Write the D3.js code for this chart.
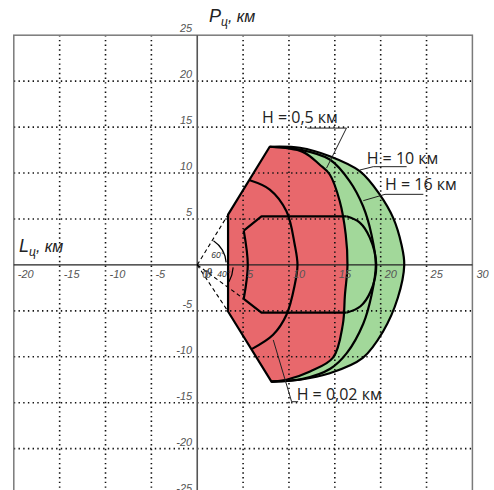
<!DOCTYPE html>
<html><head><meta charset="utf-8">
<script src="https://cdn.jsdelivr.net/npm/d3@7"></script>
<style>body{margin:0;background:#fff}</style>
</head><body>
<svg id="chart" width="494" height="490"></svg>
<script>
// ---- tick labels and grid positions (km) ----
const xTickValues = [-20, -15, -10, -5, 5, 10, 15, 20, 25, 30];
const yTickValues = [25, 20, 15, 10, 5, -5, -10, -15, -20, -25];
const gridX = [-15, -10, -5, 5, 10, 15, 20, 25];
const gridY = [20, 15, 10, 5, -5, -10, -15, -20];

// ---- zone geometry (L, P in km) ----
// straight near edge of the zone: upper vertex, 60° corner, lower corner, lower vertex
const zoneEdge = [[7.9, 12.86], [3.36, 5.47], [3.36, -5.07], [8.09, -12.7]];
// far boundary for H = 10 km
const arcH10 = [[7.9, 12.86], [11.2, 12.75], [14.45, 11.83], [17.72, 10.2], [19.9, 7.66], [21.35, 5.15],
  [22.27, 2.2], [22.57, 0], [21.87, -3.58], [20.26, -7.25], [18.05, -10.12], [14.45, -11.8], [11.2, -12.5], [8.09, -12.7]];
// far boundary for H = 16 km
const arcH16 = [[7.9, 12.86], [11.2, 12.55], [14.45, 11.47], [16.63, 9.1], [18.08, 6.38], [19.0, 3.29],
  [19.47, 0], [19.0, -3.3], [18.1, -6.4], [16.3, -9.6], [14.5, -11.3], [11.5, -12.4], [8.09, -12.7]];
// far boundary for H = 0.5 km
const arcH05 = [[7.9, 12.86], [11.5, 12.3], [13.36, 10.9], [14.45, 9.84], [15.54, 6.92], [16.19, 3.29],
  [16.38, 0], [16.1, -3.3], [15.87, -6.5], [14.8, -10.1], [12.3, -11.6], [9.73, -12.5], [8.09, -12.7]];
// far boundary for H = 0.02 km
const arcH002 = [[5.73, 9.21], [7.91, 8.2], [9.73, 5.83], [10.63, 2.2], [10.93, 0], [10.63, -2.17],
  [9.73, -5.43], [8.27, -7.61], [5.98, -9.14]];
// inner zone outline
const innerTop = [[5.07, 3.73], [7.0, 5.29], [16.27, 5.29]];
const innerCap = [[16.27, 5.29], [17.72, 4.6], [18.81, 2.97], [19.52, 0], [18.9, -2.9], [17.8, -4.5], [16.27, -5.2]];
const innerBottom = [[16.27, -5.2], [7.0, -5.2], [5.07, -3.69]];
const innerLeft = [[5.07, -3.69], [5.51, 0], [5.07, 3.73]];
// rays from the origin to the zone corners
const rayEnds = [[3.36, 5.47], [3.36, -5.07], [5.07, -3.69]];

// ---- callouts ----
const callouts = [
  { text: "H = 0,5 км", at: [7.06, 15.44], line: [[14.1, 10.54], [16.27, 14.89], [12.0, 14.89]] },
  { text: "H = 10 км", at: [18.47, 10.98], line: [[17.74, 10.33], [19.19, 10.69], [22.83, 10.69]] },
  { text: "H = 16 км", at: [20.47, 8.15], line: [[18.1, 6.99], [20.47, 7.68], [24.65, 7.68]] },
  { text: "H = 0,02 км", at: [10.84, -14.7], line: [[8.29, -8.17], [10.29, -14.89], [11.0, -14.89]] }
];

const svg = d3.select("#chart");
const x = d3.scaleLinear().domain([-20, 30]).range([13.8, 472.4]);
const y = d3.scaleLinear().domain([-25, 25]).range([494.6, 35.2]);

const RED = "#e8686c", GREEN = "#a2d89a";

const smooth = d3.line().x(d => x(d[0])).y(d => y(d[1])).curve(d3.curveCatmullRom.alpha(0.5));
const straight = d3.line().x(d => x(d[0])).y(d => y(d[1]));

// closed shape: curved far boundary then straight near edge back to start
function zonePath(arc) {
  const back = zoneEdge.slice().reverse().slice(1);
  return smooth(arc) + back.map(p => "L" + x(p[0]) + "," + y(p[1])).join("") + "Z";
}

// fills
svg.append("path").attr("d", zonePath(arcH10)).attr("fill", GREEN);
svg.append("path").attr("d", zonePath(arcH05)).attr("fill", RED);

// dotted grid
const grid = svg.append("g").attr("stroke", "#111").attr("stroke-width", 1.6)
  .attr("stroke-dasharray", "1.4,3.3").attr("fill", "none");
grid.selectAll(".gx").data(gridX).join("line")
  .attr("x1", d => x(d)).attr("x2", d => x(d)).attr("y1", y(25)).attr("y2", y(-25));
grid.selectAll(".gy").data(gridY).join("line")
  .attr("y1", d => y(d)).attr("y2", d => y(d)).attr("x1", x(-20)).attr("x2", x(30));

// frame and axes
svg.append("rect").attr("x", x(-20)).attr("y", y(25)).attr("width", x(30) - x(-20)).attr("height", y(-25) - y(25))
  .attr("fill", "none").attr("stroke", "#7a7a7a").attr("stroke-width", 1.5);
svg.append("line").attr("x1", x(0)).attr("x2", x(0)).attr("y1", y(25)).attr("y2", y(-25))
  .attr("stroke", "#555").attr("stroke-width", 1.6);
svg.append("line").attr("x1", x(-20)).attr("x2", x(30)).attr("y1", y(0)).attr("y2", y(0))
  .attr("stroke", "#222").attr("stroke-width", 1.4);

// zone outlines
const lines = svg.append("g").attr("fill", "none").attr("stroke", "#000").attr("stroke-width", 2.2)
  .attr("stroke-linejoin", "round");
lines.append("path").attr("d", zonePath(arcH10));
lines.append("path").attr("d", smooth(arcH16));
lines.append("path").attr("d", smooth(arcH05));
lines.append("path").attr("d", smooth(arcH002));
lines.append("path").attr("d", straight(innerTop));
lines.append("path").attr("d", smooth(innerCap));
lines.append("path").attr("d", straight(innerBottom));
lines.append("path").attr("d", smooth(innerLeft));

// dashed rays and angle marks
const rays = svg.append("g").attr("stroke", "#000").attr("stroke-width", 1.1).attr("stroke-dasharray", "4,3");
rays.selectAll("line").data(rayEnds).join("line")
  .attr("x1", x(0)).attr("y1", y(0)).attr("x2", d => x(d[0])).attr("y2", d => y(d[1]));
const deg = Math.PI / 180;
const arcMark = (r, a0, a1) => d3.arc().innerRadius(r).outerRadius(r).startAngle(a0 * deg).endAngle(a1 * deg)();
svg.append("path").attr("transform", `translate(${x(0)},${y(0)})`)
  .attr("d", arcMark(29, 34, 85)).attr("fill", "none").attr("stroke", "#000").attr("stroke-width", 1.2);
svg.append("path").attr("transform", `translate(${x(0)},${y(0)})`)
  .attr("d", arcMark(36, 94, 118)).attr("fill", "none").attr("stroke", "#000").attr("stroke-width", 1.2);
const small = svg.append("g").attr("font-family", "Liberation Sans, Arial, sans-serif")
  .attr("font-style", "italic").attr("fill", "#333").attr("font-size", 8.5);
small.append("text").attr("x", x(0) + 14).attr("y", y(0) - 7).text("60°");
small.append("text").attr("x", x(0) + 20).attr("y", y(0) + 12).text("40°");

// tick labels
const ticks = svg.append("g").attr("font-family", "Liberation Sans, Arial, sans-serif")
  .attr("font-style", "italic").attr("font-size", 11).attr("fill", "#555");
ticks.selectAll(".tx").data(xTickValues).join("text")
  .attr("x", d => x(d) + 4).attr("y", y(0) + 13).text(d => d);
ticks.selectAll(".ty").data(yTickValues).join("text")
  .attr("x", x(0) - 5).attr("y", d => y(d) - 3).attr("text-anchor", "end").text(d => d);
ticks.append("text").attr("x", x(0) + 5).attr("y", y(0) + 13).text("0");
// angle symbol drawn over the origin label
svg.append("text").attr("x", x(0) + 7).attr("y", y(0) + 13)
  .attr("font-family", "DejaVu Serif, serif").attr("font-style", "italic").attr("font-size", 12).attr("fill", "#333").text("ϑ");

// axis titles
function axisTitle(px, py, letter) {
  const t = svg.append("text").attr("x", px).attr("y", py)
    .attr("font-family", "Liberation Sans, Arial, sans-serif").attr("font-style", "italic").attr("fill", "#222");
  t.append("tspan").attr("font-size", 18).text(letter);
  t.append("tspan").attr("font-size", 12).attr("dy", 4).text("ц");
  t.append("tspan").attr("font-size", 16).attr("dy", -4).text(", км");
}
axisTitle(209, 22, "P");
axisTitle(19, 252, "L");

// callouts
const co = svg.append("g");
callouts.forEach(c => {
  co.append("path").attr("d", straight(c.line)).attr("fill", "none").attr("stroke", "#222").attr("stroke-width", 1);
  co.append("text").attr("x", x(c.at[0])).attr("y", y(c.at[1]))
    .attr("font-family", "Open Sans, sans-serif").attr("font-size", 16).attr("fill", "#222").text(c.text);
});
</script>
</body></html>
